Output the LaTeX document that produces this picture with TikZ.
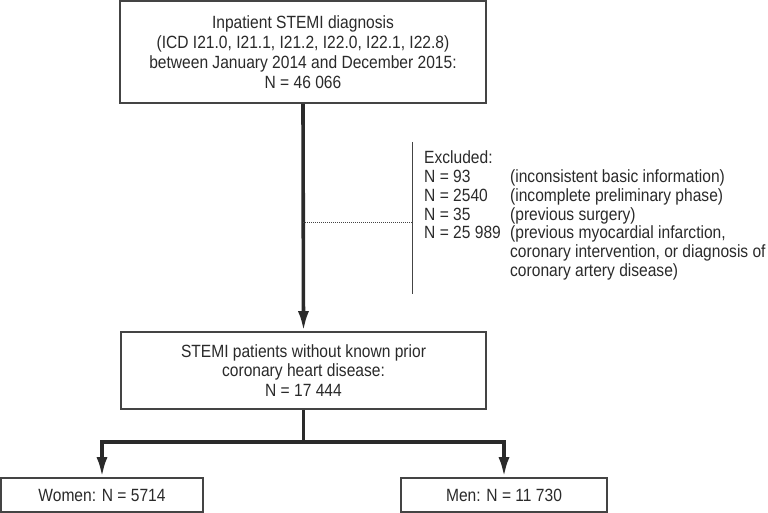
\documentclass[tikz,border=0pt]{standalone}
\usepackage{fontspec}
\setmainfont{Liberation Sans}[FakeStretch=0.88]
\usetikzlibrary{arrows.meta}
\definecolor{ink}{HTML}{2A2A2A}
\definecolor{edge}{HTML}{444444}
\tikzset{
  box/.style={draw=edge, line width=1.6pt, fill=white, align=center, text=ink,
    font=\fontsize{17.7}{19.8}\selectfont, inner sep=0pt},
  flow/.style={draw=ink, line width=3.6pt},
  flowarrow/.style={flow, -{Latex[length=20pt,width=11pt]}},
  thinline/.style={draw=edge, line width=1pt},
  dotline/.style={draw=edge, line width=0.8pt, dash pattern=on 1pt off 1pt},
}
\begin{document}
\begin{tikzpicture}[x=1pt,y=-1pt]
\useasboundingbox (0,0) rectangle (768,513);
\node[box, minimum width=366pt, minimum height=102pt] (top) at (303,52)
  {Inpatient STEMI diagnosis\\(ICD I21.0, I21.1, I21.2, I22.0, I22.1, I22.8)\\between January 2014 and December 2015:\\N = 46 066};
\node[box, minimum width=365pt, minimum height=77pt] (mid) at (303.5,370.5)
  {STEMI patients without known prior\\coronary heart disease:\\N = 17 444};
\node[box, minimum width=202pt, minimum height=34pt] (women) at (102,495)
  {Women: N = 5714};
\node[box, minimum width=206pt, minimum height=34pt] (men) at (504,495)
  {Men: N = 11 730};
\draw[flowarrow] (top.south) -- (mid.north);
\coordinate (br) at (303.5,442);
\draw[flow] (mid.south) -- (br);
\draw[flowarrow] (br) -| (women.north);
\draw[flowarrow] (br) -| (men.north);
\coordinate (ex1) at (412,142);
\coordinate (ex2) at (412,294);
\draw[thinline] (ex1) -- (ex2);
\coordinate (dj) at (303,222);
\coordinate (dk) at (412,222);
\draw[dotline] (dj) -- (dk);
\node[anchor=base west, inner sep=0pt, text=ink, font=\fontsize{17.7}{18.7}\selectfont] (excl) at (424,164)
  {\begin{tabular}[t]{@{}p{86pt}@{}l@{}}
  Excluded: & \\
  N = 93 & (inconsistent basic information)\\
  N = 2540 & (incomplete preliminary phase)\\
  N = 35 & (previous surgery)\\
  N = 25 989 & (previous myocardial infarction,\\
   & coronary intervention, or diagnosis of\\
   & coronary artery disease)
  \end{tabular}};
\end{tikzpicture}
\end{document}
